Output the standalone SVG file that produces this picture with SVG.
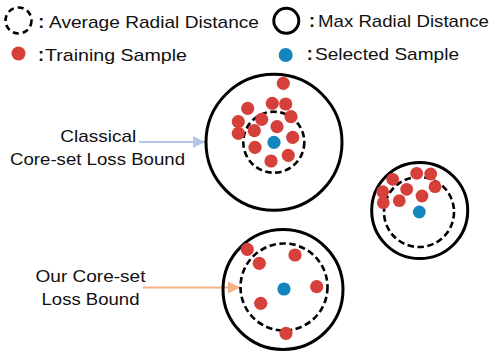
<svg xmlns="http://www.w3.org/2000/svg" width="498" height="357" viewBox="0 0 498 357">
<style>
text{font-family:"Liberation Sans",Arial,sans-serif;font-size:17px;fill:#111;}
.colon{font-weight:bold;text-anchor:middle;font-size:18px;}
.lbl{text-anchor:middle;}
.max{fill:none;stroke:#000;stroke-width:3;}
.avg{fill:none;stroke:#000;stroke-width:2.6;stroke-dasharray:6.5 3.5;}
.tr{fill:#d6403a;}
.sel{fill:#1585bd;}
</style>
<defs>
<marker id="ah-blue" viewBox="0 0 10 10" refX="10" refY="5" markerWidth="6" markerHeight="6" markerUnits="strokeWidth" orient="auto"><path d="M0,0 L10,5 L0,10 z" fill="#b4c7e7"/></marker>
<marker id="ah-orange" viewBox="0 0 10 10" refX="10" refY="5" markerWidth="6" markerHeight="6" markerUnits="strokeWidth" orient="auto"><path d="M0,0 L10,5 L0,10 z" fill="#f4b183"/></marker>
</defs>
<g id="legend">
<circle class="avg" cx="18.5" cy="20.5" r="13" stroke-width="3" style="stroke-dasharray:6 4"/>
<text class="colon" x="41.3" y="27.5">:</text>
<text x="49" y="27.5" textLength="210" lengthAdjust="spacingAndGlyphs">Average Radial Distance</text>
<circle class="tr" cx="18.5" cy="53.5" r="7"/>
<text class="colon" x="41" y="60.5">:</text>
<text x="45" y="60.5" textLength="142" lengthAdjust="spacingAndGlyphs">Training Sample</text>
<circle class="max" cx="286.3" cy="20.8" r="12.5"/>
<text class="colon" x="312" y="27">:</text>
<text x="318" y="27" textLength="171" lengthAdjust="spacingAndGlyphs">Max Radial Distance</text>
<circle class="sel" cx="285.7" cy="55" r="7"/>
<text class="colon" x="309.7" y="60">:</text>
<text x="315" y="60" textLength="144" lengthAdjust="spacingAndGlyphs">Selected Sample</text>
</g>
<g id="classical-label">
<text class="lbl" x="98.3" y="142.3" textLength="76" lengthAdjust="spacingAndGlyphs">Classical</text>
<text class="lbl" x="97.5" y="165" textLength="175" lengthAdjust="spacingAndGlyphs">Core-set Loss Bound</text>
</g>
<g id="our-label">
<text class="lbl" x="90.5" y="282.3" textLength="110" lengthAdjust="spacingAndGlyphs">Our Core-set</text>
<text class="lbl" x="90.5" y="305" textLength="98" lengthAdjust="spacingAndGlyphs">Loss Bound</text>
</g>
<g id="connectors">
<line x1="139" y1="142" x2="205" y2="142" stroke="#b4c7e7" stroke-width="2" marker-end="url(#ah-blue)"/>
<line x1="143" y1="287.5" x2="240" y2="287.5" stroke="#f4b183" stroke-width="2" marker-end="url(#ah-orange)"/>
</g>
<g id="cluster-classical">
<circle class="max" cx="274" cy="142.3" r="68"/>
<circle class="avg" cx="273.8" cy="142.2" r="30.5"/>
<circle class="tr" cx="283.3" cy="83.3" r="6.6"/>
<circle class="tr" cx="247.7" cy="108.3" r="6.6"/>
<circle class="tr" cx="272.3" cy="103.3" r="6.6"/>
<circle class="tr" cx="285.7" cy="104" r="6.6"/>
<circle class="tr" cx="291" cy="116.7" r="6.6"/>
<circle class="tr" cx="261.7" cy="119.3" r="6.6"/>
<circle class="tr" cx="238.3" cy="121.7" r="6.6"/>
<circle class="tr" cx="238.3" cy="133.3" r="6.6"/>
<circle class="tr" cx="254.3" cy="130.7" r="6.6"/>
<circle class="tr" cx="277" cy="126.7" r="6.6"/>
<circle class="tr" cx="292.7" cy="137.3" r="6.6"/>
<circle class="tr" cx="255" cy="147.3" r="6.6"/>
<circle class="tr" cx="288.3" cy="155.3" r="6.6"/>
<circle class="tr" cx="271" cy="161" r="6.6"/>
<circle class="sel" cx="274" cy="142.3" r="6.6"/>
</g>
<g id="cluster-right">
<circle class="max" cx="419.7" cy="210.5" r="48"/>
<circle class="avg" cx="419" cy="212" r="35"/>
<circle class="tr" cx="392.7" cy="179.3" r="6.4"/>
<circle class="tr" cx="416.7" cy="173.3" r="6.4"/>
<circle class="tr" cx="430.7" cy="174" r="6.4"/>
<circle class="tr" cx="382.7" cy="191.7" r="6.4"/>
<circle class="tr" cx="406.7" cy="189.3" r="6.4"/>
<circle class="tr" cx="435" cy="186.7" r="6.4"/>
<circle class="tr" cx="383.3" cy="202.7" r="6.4"/>
<circle class="tr" cx="399.3" cy="200.7" r="6.4"/>
<circle class="tr" cx="422" cy="196" r="6.4"/>
<circle class="sel" cx="419.3" cy="212" r="6.4"/>
</g>
<g id="cluster-ours">
<circle class="max" cx="283" cy="289.5" r="60"/>
<circle class="avg" cx="284" cy="287" r="43.5"/>
<circle class="tr" cx="247.3" cy="249.3" r="6.6"/>
<circle class="tr" cx="259.3" cy="263.3" r="6.6"/>
<circle class="tr" cx="295" cy="255" r="6.6"/>
<circle class="tr" cx="316.7" cy="286.7" r="6.6"/>
<circle class="tr" cx="260.7" cy="303.3" r="6.6"/>
<circle class="tr" cx="286" cy="333.3" r="6.6"/>
<circle class="sel" cx="284" cy="289" r="6.6"/>
</g>
</svg>
